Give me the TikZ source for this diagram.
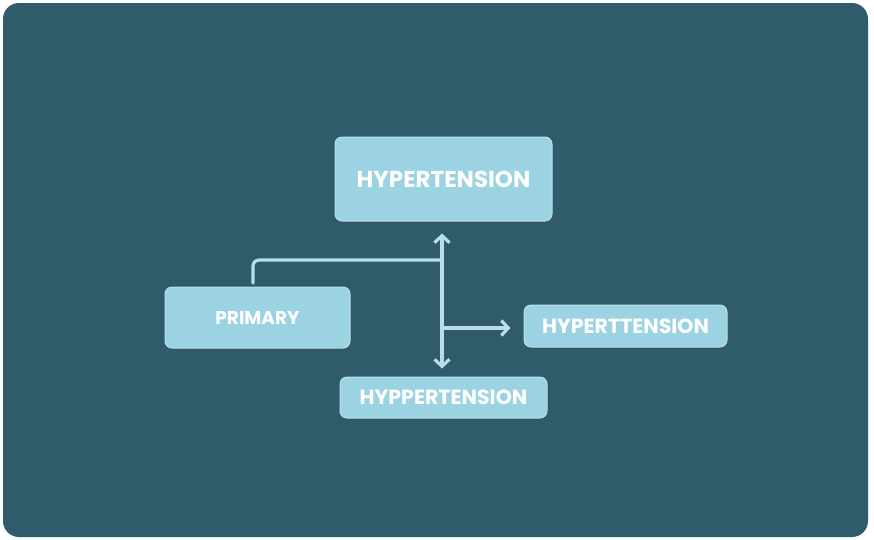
\documentclass[tikz,border=0pt]{standalone}
\usepackage{fontspec}
\setmainfont{Poppins}
\usetikzlibrary{arrows.meta,shadows}
\definecolor{bgteal}{HTML}{2F5B6A}
\definecolor{boxblue}{HTML}{9CD3E3}
\definecolor{boxedge}{HTML}{B4E1EC}
\definecolor{linecol}{HTML}{B6DFEA}
\tikzset{
  x=1pt, y=-1pt,
  box/.style={rounded corners=7pt, fill=boxblue, draw=boxedge, line width=1pt,
    text=white, font=\bfseries, inner sep=0pt, align=center,
    drop shadow={shadow xshift=1.5pt, shadow yshift=-2pt, opacity=0.35, fill=black!70}},
  conn/.style={draw=linecol, line width=3.2pt, line cap=round, rounded corners=6pt},
  tip/.style={-{Straight Barb[length=7pt,width=15pt,line width=3.2pt]}}
}
\begin{document}
\begin{tikzpicture}
\useasboundingbox (0,0) rectangle (874,539);
\fill[white] (0,0) rectangle (874,539);
\fill[bgteal, rounded corners=16pt] (3,3) rectangle (868,537);

\node[box, minimum width=217pt, minimum height=84pt, font=\fontsize{23}{26}\selectfont\bfseries] (top) at (443.5,179) {HYPERTENSION};
\node[box, minimum width=185pt, minimum height=61pt, font=\fontsize{18.5}{21}\selectfont\bfseries] (prim) at (257.5,317.5) {PRIMARY};
\node[box, minimum width=203pt, minimum height=42pt, font=\fontsize{20.5}{23}\selectfont\bfseries] (right) at (625.5,326) {HYPERTTENSION};
\node[box, minimum width=207pt, minimum height=41pt, font=\fontsize{20.5}{23}\selectfont\bfseries] (bot) at (443.5,397.5) {HYPPERTENSION};

\coordinate (hub) at (442,260);
\coordinate (mid) at (442,328);

\draw[conn] (253,283) -- (253,260) -- (hub);
\draw[conn, tip] (hub) -- ([yshift=-12pt]top.south -| hub);
\draw[conn, tip] (hub) -- ([yshift=8pt]bot.north -| hub);
\draw[conn, tip] (mid) -- ([xshift=-13pt]right.west |- mid);
\end{tikzpicture}
\end{document}
